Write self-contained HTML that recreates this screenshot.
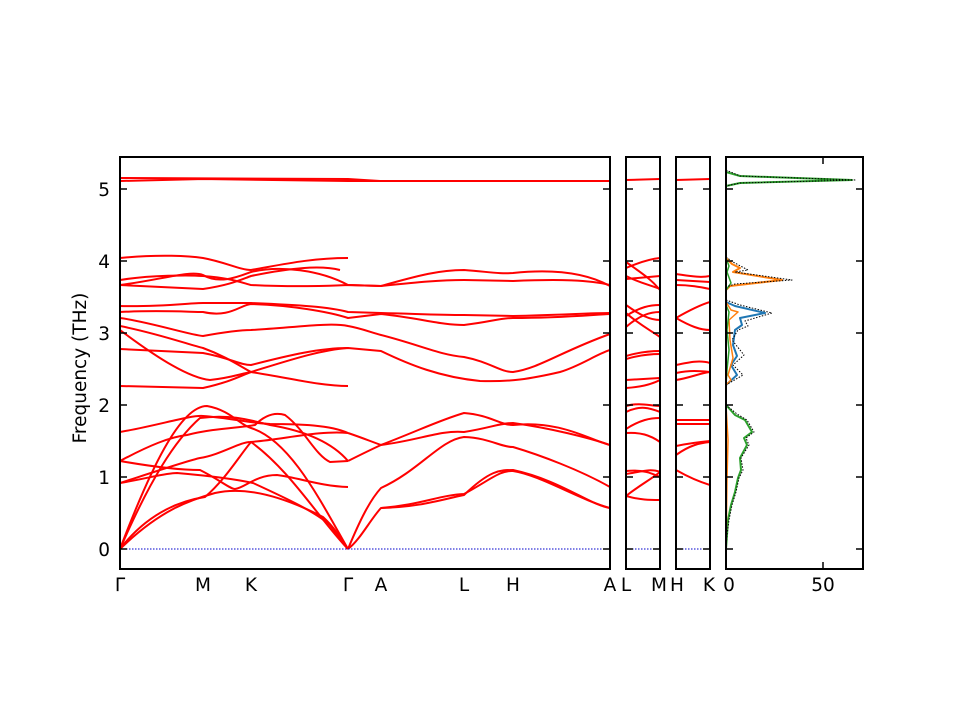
<!DOCTYPE html>
<html><head><meta charset="utf-8"><style>
html,body{margin:0;padding:0;background:#fff;}
svg{display:block;}
text{font-family:"DejaVu Sans","Liberation Sans",sans-serif;font-size:18.5px;fill:#000;}
</style></head><body>
<svg width="960" height="720" viewBox="0 0 960 720" xmlns="http://www.w3.org/2000/svg">
<defs>
<clipPath id="c1"><rect x="120" y="157" width="490" height="412"/></clipPath>
<clipPath id="c2"><rect x="626" y="157" width="34" height="412"/></clipPath>
<clipPath id="c3"><rect x="676" y="157" width="34" height="412"/></clipPath>
</defs>
<g clip-path="url(#c1)" fill="none" stroke="#f00" stroke-width="2" stroke-linejoin="round">
<path d="M120,178 L348,179 L380,181 L610,181"/>
<path d="M120,181 L203,179 L348,181 L380,181 L610,181"/>
<path d="M120,258 C160,254 190,256 203,258 C225,262 240,270 251,270 C280,265 310,258 348,258"/>
<path d="M120,285 C160,280 190,270 203,275 C220,285 240,276 251,272 C280,265 320,270 348,285 L381,286 C420,275 440,270 464,270 C490,272 500,274 513,273 C560,268 590,275 610,286"/>
<path d="M120,280 C150,275 190,275 203,276 C230,278 240,282 251,285 C290,287 330,286 348,285 L381,286 C420,282 440,280 464,280 L513,281 C560,279 590,280 610,285"/>
<path d="M120,285 L203,289 C230,285 240,280 251,276 C290,268 320,265 340,270"/>
<path d="M120,306 C160,307 190,303 203,303 L251,303 C300,305 330,307 348,312 L381,313 C420,314 440,315 464,315 L513,316 C560,315 590,313 610,313"/>
<path d="M120,312 C160,310 190,312 203,312 C230,318 240,305 251,304 C290,305 330,312 348,318 L381,314 C420,318 440,325 464,325 C490,322 500,318 513,318 C560,318 590,315 610,314"/>
<path d="M120,318 C150,322 190,335 203,336 C225,332 240,330 251,330 C290,328 330,322 348,326 C360,328 370,332 381,335 C420,345 440,355 464,357 C490,362 500,372 513,372 C540,368 560,352 610,334"/>
<path d="M120,326 C160,334 190,345 203,348 C225,356 240,366 251,372 C290,360 320,350 348,348 L381,351 C410,365 440,377 480,381 C510,382 530,379 560,372 C580,366 595,355 610,350"/>
<path d="M120,349 L203,353 C230,358 240,365 251,365 C290,355 320,348 348,348"/>
<path d="M120,386 L203,388 C230,382 240,376 251,372 C290,378 320,386 348,386"/>
<path d="M120,330 C160,360 190,378 210,380 C230,378 240,374 251,372"/>
<path d="M120,549 C150,510 185,500 205,497 C225,480 240,455 251,442 C290,470 320,520 348,549"/>
<path d="M120,549 C160,510 190,500 215,493 C250,485 290,500 323,517 C335,528 342,540 348,549"/>
<path d="M120,549 C150,470 180,406 207,406 C230,410 240,425 251,428 C290,440 320,500 348,549"/>
<path d="M120,549 C150,480 175,440 200,418 C230,414 250,420 270,425 C300,430 330,440 348,461"/>
<path d="M120,432 C160,425 190,415 203,416 C230,418 250,423 270,424 C300,424 330,425 348,433"/>
<path d="M120,461 C150,445 170,437 187,435 C215,428 240,428 255,425 C265,415 275,412 285,415 C305,430 315,455 330,462 L348,461"/>
<path d="M120,483 C160,470 190,460 200,458 C220,455 240,442 250,442 C280,440 320,430 348,433"/>
<path d="M120,461 C160,468 185,470 200,470 C220,480 230,489 235,489 C245,488 255,475 277,475 C300,478 320,486 348,487"/>
<path d="M120,483 C150,478 165,473 177,473 C200,475 230,478 253,483 C290,500 315,512 330,525 L348,549"/>
<path d="M348,461 C360,455 370,450 381,445 C420,430 440,420 464,413 C490,415 500,425 513,425 C560,420 590,440 610,445"/>
<path d="M348,433 C360,437 370,441 381,445 C420,440 440,430 464,432 C490,428 500,423 513,423 C550,428 590,438 610,445"/>
<path d="M348,549 C360,520 370,500 381,488 C420,470 440,440 464,437 C490,438 500,447 513,447 C540,455 580,470 610,487"/>
<path d="M348,549 C360,540 370,520 381,508 C420,505 440,495 464,494 C490,480 500,470 513,471 C540,475 580,500 610,508"/>
<path d="M381,508 C420,507 440,500 464,495 C490,470 500,470 513,470 C560,480 590,505 610,508"/>
</g>
<g clip-path="url(#c2)" fill="none" stroke="#f00" stroke-width="2">
<path d="M626,180 L660,179"/>
<path d="M626,268 C640,262 650,259 660,258"/><path d="M626,262 C640,272 650,278 660,290"/>
<path d="M626,279 L660,276"/><path d="M626,276 C640,283 650,285 660,289"/>
<path d="M626,316 C640,307 650,305 660,305"/><path d="M626,305 C640,315 650,320 660,320"/>
<path d="M626,327 C640,315 650,312 660,312"/><path d="M626,313 C640,325 650,330 660,337"/>
<path d="M626,356 C640,352 650,351 660,351"/><path d="M626,359 C640,355 650,354 660,354"/>
<path d="M626,380 L660,378"/><path d="M626,388 C640,387 650,385 660,380"/>
<path d="M626,406 C640,402 650,406 660,406"/><path d="M626,412 C640,405 650,408 660,412"/>
<path d="M626,429 C640,420 650,418 660,418"/><path d="M626,433 C640,432 650,435 660,442"/>
<path d="M626,471 C645,469 655,475 660,477"/><path d="M626,474 C640,472 650,468 660,472"/>
<path d="M626,496 C640,485 650,480 660,472"/><path d="M626,496 C640,500 650,500 660,500"/>
</g>
<g clip-path="url(#c3)" fill="none" stroke="#f00" stroke-width="2">
<path d="M676,180 L710,179"/>
<path d="M676,274 C690,276 700,278 710,276"/><path d="M676,280 L710,282"/><path d="M676,285 C690,285 700,287 710,289"/>
<path d="M676,318 C690,310 700,305 710,302"/><path d="M676,318 C690,326 700,330 710,330"/>
<path d="M676,365 C690,362 700,360 710,363"/><path d="M676,373 C690,370 700,371 710,372"/><path d="M676,380 C690,378 700,373 710,372"/>
<path d="M676,420 L710,420"/><path d="M676,424 L710,424"/>
<path d="M676,455 C690,445 700,443 710,442"/><path d="M676,446 C690,443 700,442 710,441"/>
<path d="M676,470 C690,478 700,482 710,485"/>
</g>
<g stroke="#00c" stroke-width="1" stroke-dasharray="1.5,1.5">
<line x1="120" y1="549" x2="610" y2="549"/><line x1="626" y1="549" x2="660" y2="549"/><line x1="676" y1="549" x2="710" y2="549"/>
</g>
<g fill="none" stroke-linejoin="round">
<path stroke="#2ca02c" stroke-width="2" d="M726,172 L740,176 L852,180 L740,183 L726,186"/>
<path stroke="#ff7f0e" stroke-width="2" d="M726,258 L732,264 L740,268 L733,272 L782,280 L730,286 L726,290"/>
<path stroke="#2ca02c" stroke-width="1.5" d="M726,258 L729,266 L727,272 L731,283 L726,290"/>
<path stroke="#1f77b4" stroke-width="2" d="M726,302 L735,306 L765,313 L740,318 L742,325 L735,330 L733,345 L737,356 L731,365 L737,375 L726,385"/>
<path stroke="#ff7f0e" stroke-width="1.5" d="M726,302 L731,310 L738,312 L729,320 L730,340 L733,358 L728,375 L731,380 L726,385"/>
<path stroke="#2ca02c" stroke-width="1.5" d="M726,305 L729,312 L727,330 L729,350 L727,370 L726,385"/>
<path stroke="#2ca02c" stroke-width="2" d="M726,405 L735,415 L745,420 L752,432 L744,438 L747,445 L740,458 L741,470 L738,478 L735,492 L731,505 L728,520 L727,535 L726,549"/>
<path stroke="#ff7f0e" stroke-width="1.5" d="M726,405 L728,440 L727,480 L726,549"/>
<path stroke="#000" stroke-width="1" stroke-dasharray="1.5,1.5" d="M726,170 L740,176 L856,180 L740,183 L726,186 M726,257 L733,262 L748,270 L735,272 L792,280 L735,284 L726,287 M726,300 L740,305 L772,313 L745,321 L748,326 L738,330 L732,340 L744,355 L733,365 L743,375 L726,385 M726,405 L737,414 L747,420 L754,432 L746,438 L749,445 L741,458 L743,470 L739,478 L736,492 L732,505 L729,520 L727,535 L726,549"/>
</g>
<g fill="none" stroke="#000" stroke-width="2">
<rect x="120" y="157" width="490" height="412"/>
<rect x="626" y="157" width="34" height="412"/>
<rect x="676" y="157" width="34" height="412"/>
<rect x="726" y="157" width="137" height="412"/>
</g>
<g stroke="#000" stroke-width="1.5">
<path d="M120,549h7M120,477h7M120,405h7M120,333h7M120,261h7M120,189h7 M610,549h-7M610,477h-7M610,405h-7M610,333h-7M610,261h-7M610,189h-7"/>
<path d="M626,549h7M626,477h7M626,405h7M626,333h7M626,261h7M626,189h7 M660,549h-7M660,477h-7M660,405h-7M660,333h-7M660,261h-7M660,189h-7"/>
<path d="M676,549h7M676,477h7M676,405h7M676,333h7M676,261h7M676,189h7 M710,549h-7M710,477h-7M710,405h-7M710,333h-7M710,261h-7M710,189h-7"/>
<path d="M726,549h7M726,477h7M726,405h7M726,333h7M726,261h7M726,189h7 M863,549h-7M863,477h-7M863,405h-7M863,333h-7M863,261h-7M863,189h-7"/>
<path d="M823,569v-7M823,157v7"/>
</g>
<g text-anchor="end">
<text x="110" y="556">0</text><text x="110" y="484">1</text><text x="110" y="412">2</text><text x="110" y="340">3</text><text x="110" y="268">4</text><text x="110" y="196">5</text>
</g>
<g text-anchor="middle">
<text x="120" y="591">Γ</text><text x="203" y="591">M</text><text x="251" y="591">K</text><text x="348" y="591">Γ</text><text x="381" y="591">A</text><text x="464" y="591">L</text><text x="513" y="591">H</text><text x="610" y="591">A</text>
<text x="626" y="591">L</text><text x="659" y="591">M</text><text x="677" y="591">H</text><text x="709" y="591">K</text>
<text x="729" y="591">0</text><text x="823" y="591">50</text>
<text transform="translate(86,368) rotate(-90)">Frequency (THz)</text>
</g>
</svg>
</body></html>
